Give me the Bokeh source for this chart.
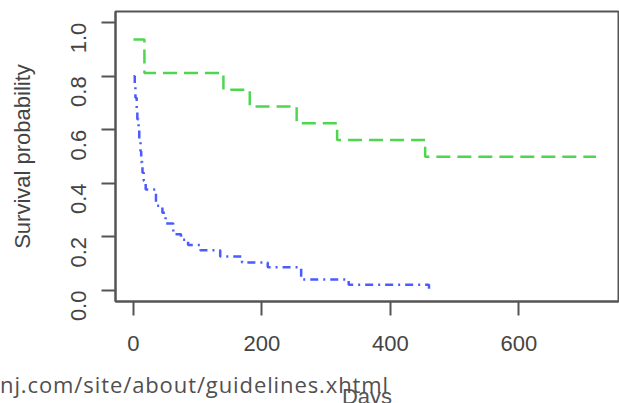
import math
from bokeh.plotting import figure
from bokeh.models import Range1d, FixedTicker, Div
from bokeh.layouts import column
from bokeh.embed import file_html
from bokeh.resources import INLINE

# Group 1 (green, dashed) Kaplan-Meier steps
green_days = [0, 17, 140, 181, 254, 317, 454, 720]
green_surv = [0.9375, 0.8125, 0.75, 0.6875, 0.625, 0.5625, 0.5, 0.5]

# Group 2 (blue, dot-dash) Kaplan-Meier steps
blue_days = [0, 2, 3, 5, 6, 8, 9, 11, 12, 14, 16, 19, 35, 45, 50, 62, 74, 85,
             104, 135, 169, 209, 261, 335, 460]
blue_surv = [0.80, 0.76, 0.72, 0.68, 0.64, 0.60, 0.56, 0.52, 0.48, 0.44, 0.41,
             0.377, 0.317, 0.29, 0.25, 0.21, 0.19, 0.17, 0.15, 0.127, 0.105,
             0.087, 0.041, 0.022, 0.0]

x_ticks = [0, 200, 400, 600]
y_ticks = [0.0, 0.2, 0.4, 0.6, 0.8, 1.0]
y_tick_labels = {0.0: "0.0", 0.2: "0.2", 0.4: "0.4", 0.6: "0.6", 0.8: "0.8", 1.0: "1.0"}

x_title = "Days"
y_title = "Survival probability"
watermark = "nj.com/site/about/guidelines.xhtml"

FONT = "Liberation Sans"
TXT = "#444444"
FS = "22px"

p = figure(width=619, height=403, output_backend="svg", toolbar_location=None,
           x_range=Range1d(-28, 755), y_range=Range1d(-0.041, 1.042),
           min_border_left=115, min_border_right=1, min_border_top=11,
           min_border_bottom=102)
p.background_fill_color = "white"
p.border_fill_color = "white"
p.grid.visible = False
p.outline_line_color = "#555555"
p.outline_line_width = 2

p.step(green_days, green_surv, mode="after", line_color="#4fd64f",
       line_width=2.5, line_dash="14 7")
p.step(blue_days, blue_surv, mode="after", line_color="#4a5cff",
       line_width=2.5, line_dash="8 5 2 5")

for ax in (p.xaxis[0], p.yaxis[0]):
    ax.axis_line_color = "#555555"
    ax.axis_line_width = 2
    ax.major_tick_line_color = "#555555"
    ax.major_tick_line_width = 2
    ax.major_tick_out = 14
    ax.major_tick_in = 0
    ax.minor_tick_line_color = None
    ax.major_label_text_font = FONT
    ax.major_label_text_font_size = FS
    ax.major_label_text_color = TXT

p.xaxis.ticker = FixedTicker(ticks=x_ticks)
p.xaxis.major_label_standoff = 20

p.yaxis.ticker = FixedTicker(ticks=y_ticks)
p.yaxis.major_label_overrides = y_tick_labels
p.yaxis.major_label_orientation = math.pi / 2
p.yaxis.major_label_standoff = 23
p.yaxis.axis_label = y_title
p.yaxis.axis_label_text_font = FONT
p.yaxis.axis_label_text_font_size = FS
p.yaxis.axis_label_text_font_style = "normal"
p.yaxis.axis_label_text_color = TXT
p.yaxis.axis_label_standoff = 26

html = (
    '<div style="position:relative;width:619px;height:30px;overflow:visible;">'
    '<div style="position:absolute;left:317px;top:13px;width:100px;'
    'text-align:center;font-family:\'Liberation Sans\';font-size:22px;'
    'line-height:22px;color:#555555;white-space:nowrap;">' + x_title + '</div>'
    '<div style="position:absolute;left:0px;top:0px;font-family:\'Open Sans\';'
    'font-size:22px;line-height:22px;letter-spacing:0.9px;color:#505050;'
    'white-space:nowrap;">' + watermark + '</div>'
    '</div>'
)
note = Div(text=html, width=619, height=30, margin=(-30, 0, 0, 0),
           styles={"overflow": "visible", "z-index": "10"})

layout = column(p, note, spacing=0)

open("out.html", "w").write(file_html(layout, INLINE))
